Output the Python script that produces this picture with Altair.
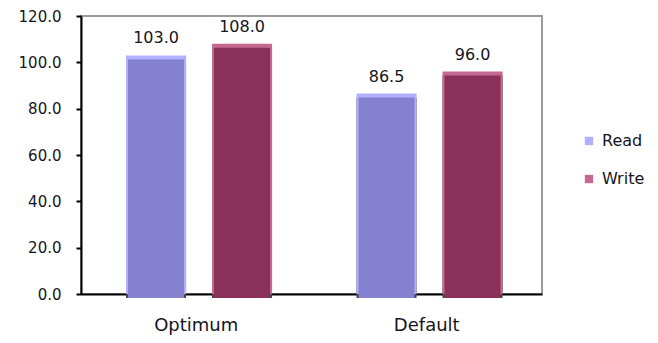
import altair as alt
import pandas as pd

categories = ["Optimum", "Optimum", "Default", "Default"]
series = ["Read", "Write", "Read", "Write"]
values = [103.0, 108.0, 86.5, 96.0]

cat_order = ["Optimum", "Default"]
ser_order = ["Read", "Write"]
main_colors = ["#8680d0", "#8b3058"]
rim_colors = ["#b0b0ff", "#c46a92"]

df = pd.DataFrame({"Category": categories, "Series": series, "Value": values})

FONT = "DejaVu Sans"
TXT = "#151520"

x_enc = alt.X("Category:N", sort=cat_order,
              scale=alt.Scale(paddingInner=0, paddingOuter=0),
              axis=alt.Axis(title=None, labelAngle=0, labelFontSize=18, labelFont=FONT,
                            labelColor=TXT, labelPadding=22, ticks=False,
                            domainColor="#000", domainWidth=2))
xo_enc = alt.XOffset("Series:N", sort=ser_order,
                     scale=alt.Scale(paddingInner=0.302, paddingOuter=0.491, align=0.533))
y_enc = alt.Y("Value:Q", scale=alt.Scale(domain=[0, 120], nice=False),
              axis=alt.Axis(title=None, values=[0, 20, 40, 60, 80, 100, 120], format=".1f",
                            grid=False, labelFontSize=15, labelFont=FONT, labelColor=TXT,
                            tickSize=5, tickColor="#000", tickWidth=2, labelPadding=15,
                            domainColor="#000", domainWidth=2))

base = alt.Chart(df)

shadow = base.mark_bar(color="#474747", xOffset=3, yOffset=4).encode(
    x=x_enc, xOffset=xo_enc, y=y_enc)

rim = base.mark_bar().encode(
    x=x_enc, xOffset=xo_enc, y=y_enc,
    color=alt.Color("Series:N", sort=ser_order,
                    scale=alt.Scale(domain=ser_order, range=rim_colors),
                    legend=alt.Legend(title=None, orient="none", legendX=500, legendY=117,
                                      symbolType="square", symbolSize=70, symbolStrokeWidth=0,
                                      labelFontSize=16, labelFont=FONT, labelColor=TXT,
                                      labelOffset=5, rowPadding=22)))

main = base.mark_bar(width=56, xOffset=2, yOffset=4).encode(
    x=x_enc, xOffset=xo_enc, y=y_enc,
    fill=alt.Fill("Series:N", sort=ser_order,
                  scale=alt.Scale(domain=ser_order, range=main_colors), legend=None))

labels = base.mark_text(baseline="alphabetic", dy=-12, fontSize=16, font=FONT, color=TXT).encode(
    x=x_enc, xOffset=xo_enc, y=y_enc,
    text=alt.Text("Value:Q", format=".1f"))

chart = alt.layer(shadow, rim, main, labels).resolve_scale(
    color="independent", fill="independent"
).properties(
    width=461, height=278,
    autosize=alt.AutoSizeParams(type="none"),
    padding={"left": 73, "top": 8, "right": 108, "bottom": 41},
).configure_view(stroke="#9a9a9a", strokeWidth=2)

chart.save("out.html", embed_options={"renderer": "svg", "actions": False})
